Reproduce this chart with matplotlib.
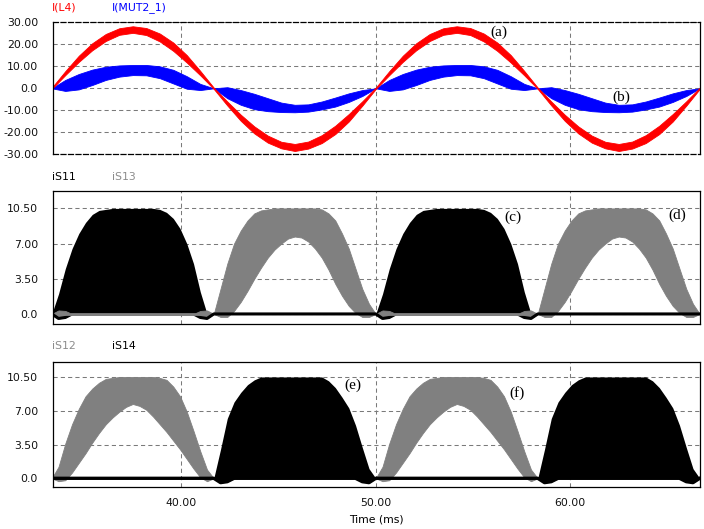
import numpy as np
import matplotlib
matplotlib.use("Agg")
import matplotlib.pyplot as plt

# ---------------- data -------------
t_start, t_end = 33.333, 66.667          # ms, two 60 Hz cycles

# top panel: one period, 15 deg steps (25 values)
red_hi_p = [0.3, 7.8, 14.8, 20.5, 24.7, 27.3, 28.2, 27.4, 24.9, 20.8, 15.1, 7.9,
            0.3, -6.0, -12.0, -17.3, -21.5, -24.3, -25.3, -24.2, -21.3, -17.0, -11.7, -5.9, 0.3]
red_lo_p = [-0.3, 6.0, 12.0, 17.3, 21.5, 24.3, 25.2, 24.2, 21.3, 17.0, 11.7, 5.9,
            -0.3, -7.8, -14.8, -20.5, -24.7, -27.3, -28.5, -27.4, -24.9, -20.8, -15.1, -7.9, -0.3]
blue_hi_p = [0, 3.8, 6.5, 8.5, 9.8, 10.4, 10.6, 10.6, 10.0, 8.4, 5.5, 2.0,
             0, 0.5, -0.8, -2.5, -4.5, -6.5, -7.5, -7.3, -6.0, -4.2, -2.3, -0.8, 0]
blue_lo_p = [0, -1.2, -0.5, 1.5, 3.8, 5.3, 6.0, 5.9, 4.6, 2.2, -0.2, -0.8,
             0, -4.5, -7.5, -9.5, -10.4, -10.8, -10.9, -10.6, -9.6, -8.3, -6.2, -3.5, 0]

# switch currents: one half-cycle, 7.5 deg steps (25 values)
s11_env = [0, 2.0, 4.5, 6.5, 8.0, 9.1, 9.9, 10.3, 10.4, 10.5, 10.5, 10.5, 10.5,
           10.5, 10.5, 10.5, 10.4, 10.1, 9.5, 8.5, 7.0, 5.0, 2.2, 0, 0]
s13_hi_h = [0, 2.5, 5.0, 7.0, 8.3, 9.3, 10.0, 10.3, 10.4, 10.5, 10.5, 10.5, 10.5,
            10.5, 10.5, 10.5, 10.4, 10.0, 9.3, 8.0, 6.5, 4.5, 2.5, 1.0, 0]
s13_lo_h = [0, -0.3, -0.3, 0.3, 1.2, 2.3, 3.5, 4.6, 5.6, 6.4, 7.0, 7.5, 7.7,
            7.6, 7.2, 6.5, 5.6, 4.4, 3.0, 1.8, 0.8, 0.1, -0.3, -0.3, 0]
s12_hi_h = [0, 1.2, 3.6, 5.6, 7.2, 8.5, 9.3, 9.9, 10.3, 10.4, 10.5, 10.5, 10.5,
            10.5, 10.5, 10.5, 10.4, 10.2, 9.5, 8.5, 6.9, 4.9, 2.8, 0.9, 0]
s12_lo_h = [0, -0.3, -0.2, 0.6, 1.6, 2.6, 3.7, 4.7, 5.6, 6.3, 6.9, 7.4, 7.7,
            7.5, 7.1, 6.4, 5.6, 4.8, 3.9, 3.0, 2.0, 1.0, 0.1, -0.3, 0]
s14_env = [0, 3.0, 6.2, 7.9, 8.9, 9.7, 10.2, 10.5, 10.5, 10.5, 10.5, 10.5, 10.5,
           10.5, 10.5, 10.5, 10.5, 10.1, 9.4, 8.4, 7.3, 5.5, 3.2, 1.0, 0]
idle_hi_h = [0, 0.35, 0.3] + [0] * 19 + [0.3, 0.35, 0]     # small bumps while off
idle_lo_h = [0, -0.45, -0.35] + [0] * 19 + [-0.35, -0.45, 0]

top_yticks = [-30, -20, -10, 0, 10, 20, 30]
top_ylabels = ["-30.00", "-20.00", "-10.00", "0.0", "10.00", "20.00", "30.00"]
sw_yticks = [0, 3.5, 7.0, 10.5]
sw_ylabels = ["0.0", "3.50", "7.00", "10.50"]
xticks = [40, 50, 60]
xlabels = ["40.00", "50.00", "60.00"]

# ---------------- assemble two periods -------------
def two_periods(p):
    return np.array(p + p[1:])

def halves(a, b):
    one = a + b[1:]
    return np.array(one + one[1:])

t_top = np.linspace(t_start, t_end, 2 * (len(red_hi_p) - 1) + 1)
t_sw = np.linspace(t_start, t_end, 4 * (len(s11_env) - 1) + 1)

red_hi, red_lo = two_periods(red_hi_p), two_periods(red_lo_p)
blue_hi, blue_lo = two_periods(blue_hi_p), two_periods(blue_lo_p)
zeros_h = [0] * len(s11_env)
s11_hi = halves(s11_env, zeros_h)
s11_lo = halves(idle_lo_h, zeros_h)
s13_hi = halves(idle_hi_h, s13_hi_h)
s13_lo = halves(idle_lo_h, s13_lo_h)
s12_hi = halves(s12_hi_h, idle_hi_h)
s12_lo = halves(s12_lo_h, idle_lo_h)
s14_hi = halves(zeros_h, s14_env)
s14_lo = halves(zeros_h, idle_lo_h)

# ---------------- figure -------------
W, H = 704, 529
fig = plt.figure(figsize=(W / 100, H / 100), dpi=100)
plt.rcParams["font.family"] = ["DejaVu Sans"]

def pax(l, r, tp, b):
    return fig.add_axes([l / W, (H - b) / H, (r - l) / W, (b - tp) / H])

ax1 = pax(52.7, 700, 22.3, 154.3)
ax2 = pax(52.7, 700, 191, 324)
ax3 = pax(52.7, 700, 361.7, 486.7)

RED, BLUE, GRAY = "#ff0000", "#0000ff", "#808080"
fs = 7.8

for ax in (ax1, ax2, ax3):
    ax.set_xlim(33.38, 66.68)
    ax.set_xticks(xticks)
    ax.set_axisbelow(True)
    ax.grid(True, color="#7a7a7a", lw=0.75, linestyle=(0, (4, 3)))
    ax.tick_params(length=0, labelsize=fs, pad=10.5, colors="#111111")
    for s in ax.spines.values():
        s.set_color("black")
        s.set_linewidth(0.9)

ax1.set_xticklabels([])
ax2.set_xticklabels([])
ax3.set_xticklabels(xlabels)
ax3.tick_params(axis="x", pad=8)

# top panel
ax1.set_ylim(-30, 30)
ax1.set_yticks(top_yticks)
ax1.set_yticklabels(top_ylabels)
ax1.spines["top"].set_linestyle((0, (4, 2)))
ax1.spines["bottom"].set_linestyle((0, (4, 2)))
ax1.fill_between(t_top, blue_lo, blue_hi, color=BLUE, lw=0.6, edgecolor=BLUE)
ax1.fill_between(t_top, red_lo, red_hi, color=RED, lw=0.6, edgecolor=RED)

# middle panel
ax2.set_ylim(-1.0, 12.23)
ax2.set_yticks(sw_yticks)
ax2.set_yticklabels(sw_ylabels)
ax2.fill_between(t_sw, s11_lo, s11_hi, color="black", lw=0)
ax2.plot(t_sw, np.minimum(s11_lo, 0), color="black", lw=2.2)
ax2.fill_between(t_sw, s13_lo, s13_hi, color=GRAY, lw=0.6, edgecolor=GRAY)
ax2.plot(t_sw, np.where(s11_hi > 0, 0.0, np.nan), color=GRAY, lw=2.0)

# bottom panel
ax3.set_ylim(-0.87, 12.08)
ax3.set_yticks(sw_yticks)
ax3.set_yticklabels(sw_ylabels)
ax3.fill_between(t_sw, s12_lo, s12_hi, color=GRAY, lw=0.6, edgecolor=GRAY)
ax3.fill_between(t_sw, s14_lo, s14_hi, color="black", lw=0)
ax3.plot(t_sw, np.minimum(s14_lo, 0), color="black", lw=2.4)

# series names above panels
def ftxt(x, y, s, c):
    fig.text(x / W, 1 - y / H, s, color=c, fontsize=fs, ha="left", va="center")

ftxt(52, 8, "I(L4)", RED)
ftxt(112, 8, "I(MUT2_1)", BLUE)
ftxt(52, 177, "iS11", "black")
ftxt(112, 177, "iS13", "#8c8c8c")
ftxt(52, 346, "iS12", "#8c8c8c")
ftxt(112, 346, "iS14", "black")

fig.text(376 / W, 1 - 519 / H, "Time (ms)", fontsize=fs, ha="center", va="center")

# annotations
afont = dict(family=["Liberation Serif", "DejaVu Serif"], fontsize=11, ha="center", va="center")
ax1.text(56.35, 25.6, "(a)", **afont)
ax1.text(62.62, -4.0, "(b)", **afont)
ax2.text(57.07, 9.6, "(c)", **afont)
ax2.text(65.5, 9.8, "(d)", **afont)
ax3.text(48.84, 9.6, "(e)", **afont)
ax3.text(57.26, 8.8, "(f)", **afont)

fig.savefig("out.png", dpi=100)
